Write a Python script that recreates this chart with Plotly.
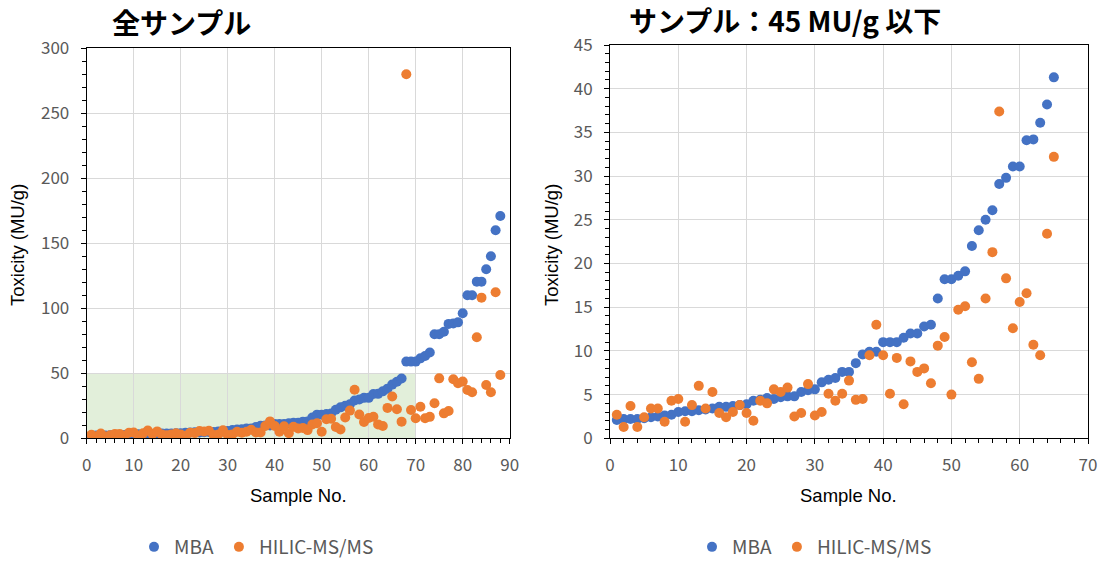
import plotly.graph_objects as go

# ---- Right chart data (samples with MBA <= 45 MU/g) ----
sample_r = list(range(1, 66))
mba_r = [2.1, 2.2, 2.2, 2.2, 2.3, 2.4, 2.5, 2.6, 2.7, 3.0,
         3.1, 3.1, 3.2, 3.3, 3.4, 3.6, 3.6, 3.7, 3.8, 3.9,
         4.3, 4.4, 4.6, 4.5, 4.7, 4.8, 4.8, 5.3, 5.5, 5.6,
         6.4, 6.7, 6.9, 7.6, 7.6, 8.6, 9.6, 9.9, 9.9, 11.0,
         11.0, 11.0, 11.5, 12.0, 12.0, 12.8, 13.0, 16.0, 18.2, 18.2,
         18.6, 19.1, 22.0, 23.8, 25.0, 26.1, 29.1, 29.8, 31.1, 31.1,
         34.1, 34.2, 36.1, 38.2, 41.3]
hilic_r = [2.7, 1.3, 3.7, 1.3, 2.4, 3.4, 3.4, 1.9, 4.3, 4.5,
           1.9, 3.8, 6.0, 3.4, 5.3, 2.9, 2.4, 3.0, 3.8, 2.9,
           2.0, 4.3, 4.0, 5.6, 5.3, 5.8, 2.5, 2.9, 6.2, 2.6,
           3.0, 5.1, 4.3, 5.1, 6.6, 4.4, 4.5, 9.5, 13.0, 9.5,
           5.1, 9.2, 3.9, 8.8, 7.6, 8.0, 6.3, 10.6, 11.6, 5.0,
           14.7, 15.1, 8.7, 6.8, 16.0, 21.3, 37.4, 18.3, 12.6, 15.6,
           16.6, 10.7, 9.5, 23.4, 32.2]

# ---- Left chart data (all samples) ----
mba_extra = [43.5, 46.0,
             59.0, 59.0, 59.0, 61.5, 63.3, 66.0, 80.0, 80.0, 82.0, 88.0,
             88.3, 89.2, 96.2, 110.0, 110.0, 120.5, 120.5, 130.0, 140.0, 160.0, 171.0]
hilic_extra = [22.3, 12.8,
               280.0, 21.8, 15.4, 24.3, 15.4, 16.5, 26.9, 46.1, 19.2, 21.0,
               45.4, 42.3, 43.6, 37.2, 35.4, 77.7, 108.2, 41.0, 35.4, 112.3, 48.7]
mba_l = mba_r + mba_extra
hilic_l = hilic_r + hilic_extra
sample_l = list(range(1, len(mba_l) + 1))

titles = ["全サンプル", "サンプル：45 MU/g 以下"]
series_names = ["MBA", "HILIC-MS/MS"]

BLUE = "#4472C4"
ORANGE = "#ED7D31"
GRID = "#D9D9D9"
TICKC = "#595959"
TICKFONT = dict(family="Noto Sans CJK JP", size=17, color=TICKC)

W, H = 1109, 563

def px(xp):
    return xp / W

def py(yp):
    return (H - yp) / H

fig = go.Figure()

fig.add_trace(go.Scatter(x=sample_l, y=mba_l, mode="markers", name=series_names[0],
                         marker=dict(color=BLUE, size=10), xaxis="x", yaxis="y", legend="legend"))
fig.add_trace(go.Scatter(x=sample_l, y=hilic_l, mode="markers", name=series_names[1],
                         marker=dict(color=ORANGE, size=10), xaxis="x", yaxis="y", legend="legend"))
fig.add_trace(go.Scatter(x=sample_r, y=mba_r, mode="markers", name=series_names[0],
                         marker=dict(color=BLUE, size=10), xaxis="x2", yaxis="y2", legend="legend2"))
fig.add_trace(go.Scatter(x=sample_r, y=hilic_r, mode="markers", name=series_names[1],
                         marker=dict(color=ORANGE, size=10), xaxis="x2", yaxis="y2", legend="legend2"))

def axis_common(dtick, minor_dtick, rng, domain, anchor):
    return dict(range=rng, domain=domain, anchor=anchor, dtick=dtick, tick0=0,
                automargin=False,
                showgrid=True, gridcolor=GRID, gridwidth=1,
                showline=True, linecolor="#000000", linewidth=1, mirror=True,
                ticks="outside", ticklen=5, tickcolor="#000000",
                minor=dict(dtick=minor_dtick, ticks="outside", ticklen=4, tickcolor="#000000", showgrid=False),
                tickfont=TICKFONT, zeroline=False, fixedrange=True)

ydom_l = [py(438.3), py(48.3)]
ydom_r = [py(438.3), py(45.0)]

xa = axis_common(10, 2, [0, 90], [px(86.7), px(509.7)], "y")
xa["ticklabelstandoff"] = 6
ya = axis_common(50, 10, [0, 300], ydom_l, "x")
ya["ticklabelstandoff"] = 8
xa2 = axis_common(10, 2, [0, 70], [px(610), px(1088)], "y2")
xa2["ticklabelstandoff"] = 6
ya2 = axis_common(5, 1, [0, 45], ydom_r, "x2")
ya2["ticklabelstandoff"] = 8

LEGFONT = dict(family="Noto Sans CJK JP", size=19, color=TICKC)

fig.update_layout(
    width=W, height=H,
    margin=dict(l=0, r=0, t=0, b=0, autoexpand=False),
    plot_bgcolor="white", paper_bgcolor="white",
    xaxis=xa, yaxis=ya, xaxis2=xa2, yaxis2=ya2,
    legend=dict(orientation="h", x=px(134), y=py(547), xanchor="left", yanchor="middle",
                font=LEGFONT, itemwidth=30, bgcolor="rgba(0,0,0,0)"),
    legend2=dict(orientation="h", x=px(692), y=py(547), xanchor="left", yanchor="middle",
                 font=LEGFONT, itemwidth=30, bgcolor="rgba(0,0,0,0)"),
    shapes=[dict(type="rect", xref="x", yref="y", x0=0, x1=70, y0=0, y1=50,
                 fillcolor="#E2EFDA", line=dict(width=0), layer="below")],
)

ann = []
ann.append(dict(text="<b>" + titles[0] + "</b>", x=px(181), y=py(22), xref="paper", yref="paper",
                showarrow=False, xanchor="center", yanchor="middle",
                font=dict(family="Noto Sans CJK JP", size=28, color="#000000")))
ann.append(dict(text="<b>" + titles[1] + "</b>", x=px(785), y=py(20), xref="paper", yref="paper",
                showarrow=False, xanchor="center", yanchor="middle",
                font=dict(family="Noto Sans CJK JP", size=28, color="#000000")))
for xc in (298, 848):
    ann.append(dict(text="Sample No.", x=px(xc), y=py(495), xref="paper", yref="paper",
                    showarrow=False, xanchor="center", yanchor="middle",
                    font=dict(family="Liberation Sans", size=18.5, color="#000000")))
for xc, yc in ((18, 245), (552, 245)):
    ann.append(dict(text="Toxicity (MU/g)", x=px(xc), y=py(yc), xref="paper", yref="paper",
                    showarrow=False, xanchor="center", yanchor="middle", textangle=-90,
                    font=dict(family="Liberation Sans", size=18.5, color="#000000")))
fig.update_layout(annotations=ann)

fig.write_html("out.html")
